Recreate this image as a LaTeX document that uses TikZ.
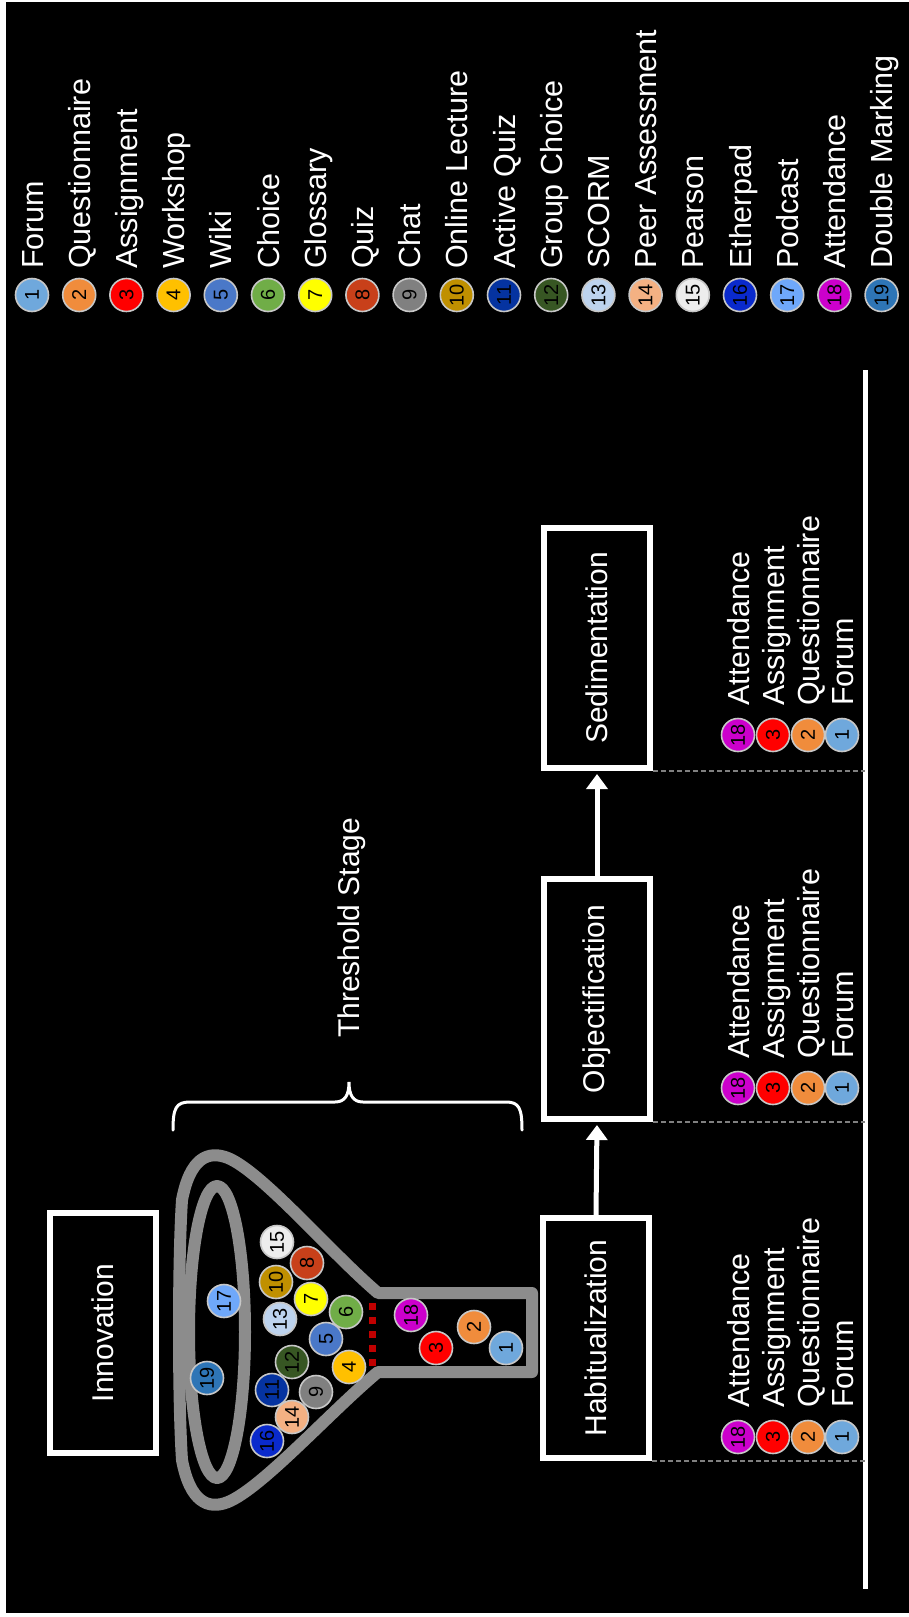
\documentclass[tikz,border=0pt]{standalone}
\usepackage{fontspec}
\setmainfont{Liberation Sans}
\usetikzlibrary{arrows.meta}

% activity colours
\definecolor{c1}{HTML}{6FA8DC}
\definecolor{c2}{HTML}{F08C3C}
\definecolor{c3}{HTML}{FF0000}
\definecolor{c4}{HTML}{FFC000}
\definecolor{c5}{HTML}{4A78C8}
\definecolor{c6}{HTML}{70AD47}
\definecolor{c7}{HTML}{FFFF00}
\definecolor{c8}{HTML}{C8401A}
\definecolor{c9}{HTML}{808080}
\definecolor{c10}{HTML}{C09000}
\definecolor{c11}{HTML}{0533A0}
\definecolor{c12}{HTML}{375623}
\definecolor{c13}{HTML}{BDD3EE}
\definecolor{c14}{HTML}{F4B183}
\definecolor{c15}{HTML}{EDEDED}
\definecolor{c16}{HTML}{0A2ACC}
\definecolor{c17}{HTML}{6FA8FA}
\definecolor{c18}{HTML}{CC00CC}
\definecolor{c19}{HTML}{2E75B6}
\definecolor{funnelgray}{HTML}{8C8C8C}
\definecolor{valve}{HTML}{C00000}

\begin{document}
\begin{tikzpicture}[x=1pt,y=-1pt,
  ball/.style={circle, draw=white!78!black, line width=1.6pt, minimum size=33pt,
    inner sep=0pt, text=black, rotate=90, font=\fontsize{20}{20}\selectfont},
  legtext/.style={anchor=west, inner sep=0pt, rotate=90, text=white,
    font=\fontsize{30.5}{36}\selectfont, text height=22pt, text depth=0pt},
  stagebox/.style={draw=white, line width=6pt, fill=black, minimum width=106pt,
    minimum height=240pt, inner sep=0pt, text=white, font=\fontsize{30}{36}\selectfont},
  flow/.style={draw=white, line width=5pt, shorten >=3pt,
    -{Triangle[width=21pt,length=15pt]}},
  axisline/.style={draw=white, line width=5pt},
  guide/.style={draw=white!50!black, line width=1.5pt, dash pattern=on 5pt off 3pt},
  funnel/.style={draw=funnelgray, line width=12pt, line join=round},
  bracket/.style={draw=white, line width=3pt, line cap=round}
]
\useasboundingbox (0,0) rectangle (909,1617);
\fill[white] (0,0) rectangle (909,1617);
\fill[black] (6,2) rectangle (909,1613);

% legend of activities
\foreach \i/\name in {1/Forum, 2/Questionnaire, 3/Assignment, 4/Workshop, 5/Wiki,
  6/Choice, 7/Glossary, 8/Quiz, 9/Chat, 10/Online Lecture, 11/Active Quiz,
  12/Group Choice, 13/SCORM, 14/Peer Assessment, 15/Pearson, 16/Etherpad,
  17/Podcast, 18/Attendance, 19/Double Marking}{
  \node[ball, fill=c\i] (leg\i) at ({32+47.2*(\i-1)},295) {\i};
  \node[legtext] (legname\i) at ({32+47.2*(\i-1)},269) {\name};
}

% stages
\node[stagebox] (inn) at (103,1333) {\rotatebox{90}{Innovation}};
\node[stagebox] (hab) at (596,1338) {\rotatebox{90}{Habitualization}};
\node[stagebox] (obj) at (597,999) {\rotatebox{90}{Objectification}};
\node[stagebox] (sed) at (597,648) {\rotatebox{90}{Sedimentation}};

\draw[flow] (hab.north) -- (obj.south);
\draw[flow] (obj.north) -- (sed.south);

% time axis with guides
\coordinate (axtop) at (865,370);
\coordinate (axbot) at (865,1589);
\draw[axisline] (axtop) -- (axbot);
\draw[guide] (hab.south east) -- (hab.south east -| axtop);
\draw[guide] (obj.south east) -- (obj.south east -| axtop);
\draw[guide] (sed.south east) -- (sed.south east -| axtop);

% activities retained at each stage
\foreach \s/\y in {h/1437, o/1088, s/735}{
  \foreach \k/\i/\name/\x in {a/18/Attendance/738, b/3/Assignment/773,
    c/2/Questionnaire/808, d/1/Forum/842}{
    \node[ball, fill=c\i] (\s\k) at (\x,\y) {\i};
    \node[legtext] (\s\k name) at (\x,\y-29) {\name};
  }
}

% funnel
\draw[funnel] (532,1293) -- (378,1293)
  .. controls (330,1252) and (262,1172) .. (228,1158)
  .. controls (208,1150) and (190,1158) .. (182,1200)
  .. controls (178,1260) and (178,1400) .. (182,1460)
  .. controls (190,1502) and (208,1510) .. (228,1502)
  .. controls (262,1488) and (330,1412) .. (378,1372)
  -- (532,1372) -- cycle;
\draw[funnel] (217,1332) ellipse [x radius=28, y radius=146];

% valve between funnel and tube
\foreach \v in {1306,1320,1334,1348,1362}
  \fill[valve] (368.5,\v-3.5) rectangle (375.5,\v+3.5);

% activities inside the funnel
\foreach \i/\x/\y in {15/277/1242, 8/307/1263, 10/276/1282, 7/311/1299,
  6/346/1312, 13/280/1319, 17/224/1301, 5/326/1339, 12/292/1362, 4/349/1367,
  19/207/1378, 11/272/1390, 9/316/1392, 14/292/1417, 16/267/1441,
  18/411/1315, 3/436/1348, 2/474/1327, 1/506/1348}
  \node[ball, fill=c\i] (f\i) at (\x,\y) {\i};

% threshold bracket
\draw[bracket] (173,1130) .. controls (173,1108) and (176,1102) .. (190,1102)
  -- (335,1102) .. controls (345,1102) and (349,1095) .. (349,1082)
  .. controls (349,1095) and (353,1102) .. (363,1102)
  -- (506,1102) .. controls (519,1102) and (522,1108) .. (522,1130);
\node[legtext, font=\fontsize{30}{36}\selectfont] (thr) at (348,1038) {Threshold Stage};
\end{tikzpicture}
\end{document}
